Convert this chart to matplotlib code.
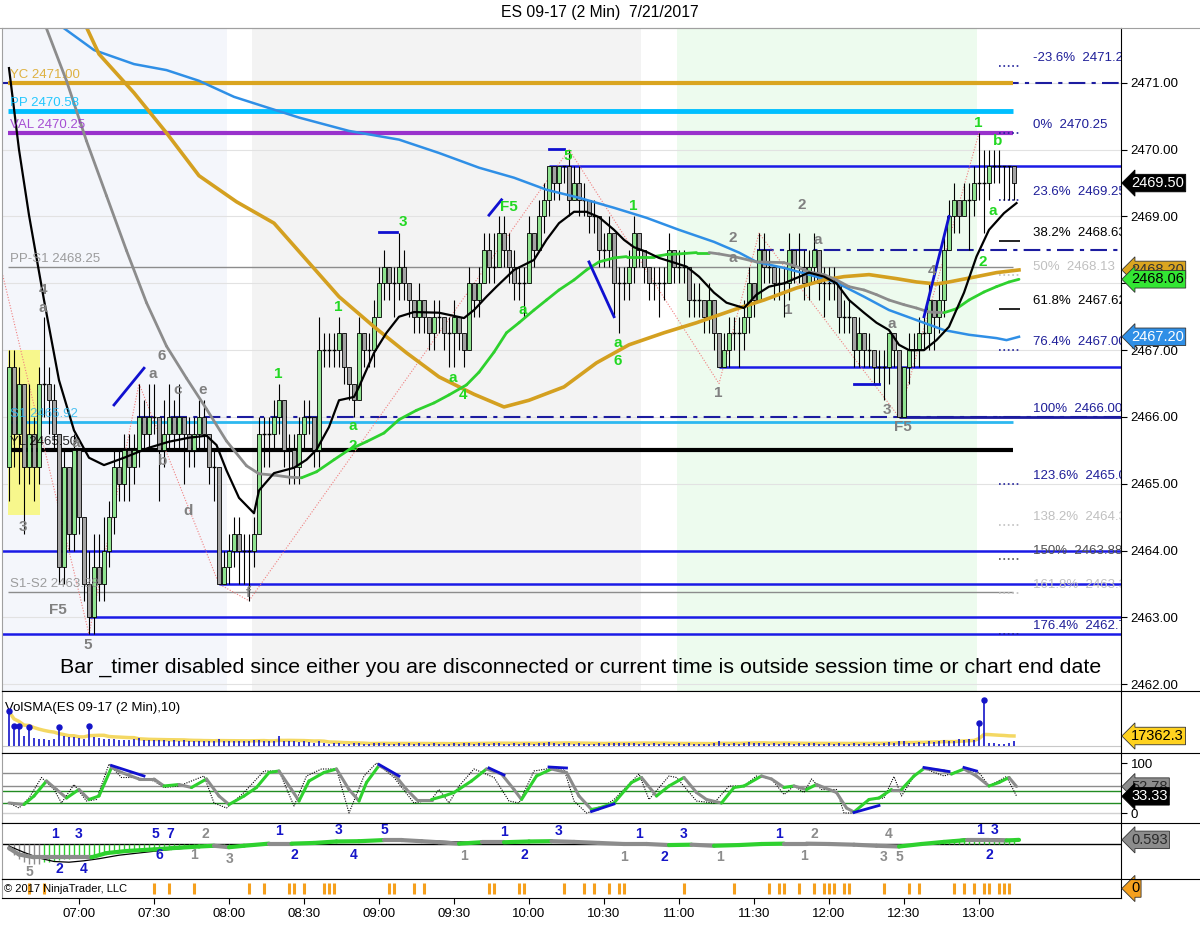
import numpy as np
import pandas as pd
import matplotlib
matplotlib.use("Agg")
import matplotlib.pyplot as plt
from matplotlib.collections import LineCollection
from matplotlib.lines import Line2D

plt.rcParams['font.family'] = ['Liberation Sans', 'DejaVu Sans']

title = "ES 09-17 (2 Min)  7/21/2017"
message = ("Bar _timer disabled since either you are disconnected or current time "
           "is outside session time or chart end date")

# 2 min bars, time in minutes from 07:00, first bar stamped 06:32
first_bar_min = -28
first_open = 2465.25
closes = [2466.75, 2465.75, 2466.5, 2465.25, 2465.75, 2465.25, 2466.5, 2466.5, 2466.25, 2465.75,
          2463.75, 2465.25, 2464.25, 2465.5, 2464.5, 2463.5, 2463.0, 2463.75, 2463.5, 2464.0,
          2464.5, 2465.25, 2465.0, 2465.5, 2465.25, 2465.5, 2466.0, 2465.75, 2466.0, 2466.0,
          2465.5, 2465.75, 2466.0, 2465.75, 2466.0, 2465.75, 2465.5, 2465.75, 2466.0, 2465.75,
          2465.25, 2465.25, 2463.5, 2463.75, 2464.0, 2464.25, 2464.0, 2464.0, 2464.0, 2464.25,
          2465.75, 2465.75, 2465.75, 2466.0, 2466.25, 2465.5, 2465.5, 2465.25, 2465.75, 2466.0,
          2466.0, 2465.5, 2467.0, 2467.0, 2467.0, 2467.0, 2467.25, 2466.75, 2466.5, 2466.25,
          2467.25, 2467.0, 2467.0, 2467.5, 2468.0, 2468.25, 2468.0, 2468.0, 2468.25, 2468.0,
          2467.75, 2467.5, 2467.75, 2467.5, 2467.25, 2467.5, 2467.5, 2467.25, 2467.25, 2467.5,
          2467.25, 2467.0, 2468.0, 2467.75, 2468.0, 2468.5, 2468.25, 2468.25, 2468.75, 2468.5,
          2468.25, 2468.0, 2468.0, 2468.0, 2468.75, 2468.5, 2469.0, 2469.25, 2469.75, 2469.5,
          2469.75, 2469.75, 2469.25, 2469.5, 2469.25, 2469.25, 2469.0, 2469.0, 2468.5, 2468.5,
          2468.75, 2468.0, 2468.0, 2468.0, 2468.25, 2468.75, 2468.5, 2468.25, 2468.0, 2468.0,
          2468.0, 2468.0, 2468.5, 2468.25, 2468.25, 2468.25, 2467.75, 2467.75, 2467.75, 2467.5,
          2467.75, 2467.25, 2466.75, 2467.0, 2467.25, 2467.25, 2467.25, 2467.5, 2468.0, 2467.75,
          2468.5, 2468.25, 2468.25, 2468.0, 2468.0, 2468.0, 2468.5, 2468.25, 2468.25, 2468.0,
          2468.25, 2468.5, 2468.0, 2468.0, 2468.0, 2468.0, 2467.5, 2467.5, 2467.5, 2467.0,
          2467.25, 2467.0, 2467.0, 2466.75, 2466.75, 2466.75, 2467.25, 2467.0, 2466.0, 2466.75,
          2467.0, 2467.0, 2467.25, 2467.25, 2467.75, 2467.5, 2467.75, 2468.5, 2469.0, 2469.25,
          2469.0, 2469.25, 2469.25, 2469.5, 2469.5, 2469.5, 2469.75, 2469.75, 2469.75, 2469.75,
          2469.75, 2469.5]
highs = [2467.0, 2467.0, 2466.75, 2466.5, 2466.5, 2466.0, 2466.75, 2467.5, 2466.75, 2466.5,
         2465.75, 2465.5, 2465.25, 2465.75, 2465.5, 2464.5, 2464.0, 2464.25, 2464.25, 2464.5,
         2464.75, 2465.5, 2465.5, 2465.75, 2465.75, 2465.75, 2466.5, 2466.25, 2466.5, 2466.5,
         2466.0, 2466.25, 2466.5, 2466.25, 2466.5, 2466.0, 2466.0, 2466.0, 2466.25, 2466.25,
         2465.75, 2465.5, 2465.25, 2464.0, 2464.25, 2464.5, 2464.5, 2464.25, 2464.25, 2464.5,
         2466.0, 2466.0, 2466.0, 2466.25, 2466.5, 2466.25, 2465.75, 2465.75, 2466.0, 2466.25,
         2466.25, 2466.0, 2467.5, 2467.25, 2467.25, 2467.25, 2467.5, 2467.25, 2466.75, 2466.5,
         2467.5, 2467.25, 2467.25, 2467.75, 2468.25, 2468.5, 2468.25, 2468.25, 2468.75, 2468.5,
         2468.0, 2467.75, 2468.0, 2467.75, 2467.5, 2467.75, 2467.75, 2467.5, 2467.5, 2467.75,
         2467.5, 2467.25, 2468.25, 2468.0, 2468.25, 2468.75, 2468.75, 2468.75, 2469.0, 2469.0,
         2468.75, 2468.5, 2468.25, 2468.25, 2469.0, 2468.75, 2469.25, 2469.5, 2469.75, 2469.75,
         2469.75, 2469.75, 2470.0, 2469.75, 2469.75, 2469.5, 2469.25, 2469.25, 2469.0, 2468.75,
         2469.0, 2468.75, 2468.25, 2468.25, 2468.5, 2469.0, 2468.75, 2468.5, 2468.25, 2468.25,
         2468.25, 2468.25, 2468.75, 2468.5, 2468.5, 2468.5, 2468.25, 2468.0, 2468.0, 2467.75,
         2468.0, 2467.75, 2467.25, 2467.25, 2467.5, 2467.5, 2467.5, 2467.75, 2468.25, 2468.0,
         2468.75, 2468.75, 2468.5, 2468.25, 2468.25, 2468.25, 2468.75, 2468.5, 2468.75, 2468.5,
         2468.5, 2468.75, 2468.5, 2468.25, 2468.25, 2468.25, 2468.0, 2467.75, 2467.75, 2467.5,
         2467.5, 2467.25, 2467.25, 2467.0, 2467.0, 2467.0, 2467.25, 2467.25, 2467.0, 2466.75,
         2467.25, 2467.25, 2467.5, 2467.5, 2468.0, 2467.75, 2468.0, 2468.75, 2469.25, 2469.5,
         2469.25, 2469.5, 2469.5, 2469.75, 2470.25, 2470.0, 2470.0, 2470.0, 2470.0, 2469.75,
         2469.75, 2469.75]
lows = [2464.75, 2465.25, 2465.0, 2464.25, 2465.0, 2464.75, 2465.0, 2466.0, 2465.75, 2465.5,
        2463.5, 2463.5, 2464.0, 2464.0, 2464.25, 2463.25, 2462.75, 2462.75, 2463.25, 2463.25,
        2463.75, 2464.25, 2464.75, 2464.75, 2464.75, 2465.0, 2465.25, 2465.5, 2465.5, 2465.75,
        2464.75, 2465.25, 2465.5, 2465.5, 2465.5, 2465.0, 2465.25, 2465.25, 2465.5, 2465.5,
        2465.0, 2464.75, 2463.5, 2463.5, 2463.5, 2463.75, 2463.5, 2463.5, 2463.25, 2463.75,
        2464.25, 2465.25, 2465.25, 2465.5, 2465.75, 2465.25, 2465.0, 2465.0, 2465.0, 2465.5,
        2465.75, 2465.25, 2465.25, 2466.75, 2466.75, 2466.75, 2466.75, 2466.5, 2466.25, 2466.0,
        2466.25, 2466.75, 2466.75, 2466.75, 2467.5, 2467.75, 2467.75, 2467.5, 2467.75, 2467.75,
        2467.5, 2467.25, 2467.25, 2467.25, 2467.0, 2467.0, 2467.25, 2467.0, 2466.75, 2466.75,
        2467.0, 2466.75, 2467.0, 2467.5, 2467.5, 2468.0, 2468.0, 2468.0, 2468.25, 2468.25,
        2468.0, 2467.75, 2467.75, 2467.5, 2468.0, 2468.25, 2468.5, 2468.75, 2469.0, 2469.25,
        2469.25, 2469.5, 2469.0, 2469.25, 2469.0, 2469.0, 2468.75, 2468.75, 2468.25, 2468.25,
        2468.25, 2467.5, 2467.25, 2467.75, 2467.75, 2468.0, 2468.25, 2468.0, 2467.75, 2467.75,
        2467.5, 2467.75, 2468.0, 2468.0, 2468.0, 2468.0, 2467.5, 2467.5, 2467.5, 2467.25,
        2467.25, 2467.0, 2466.75, 2466.75, 2466.75, 2467.0, 2466.75, 2467.0, 2467.25, 2467.5,
        2467.75, 2468.0, 2468.0, 2467.75, 2467.75, 2467.5, 2467.75, 2468.0, 2468.0, 2467.75,
        2467.75, 2468.0, 2467.75, 2467.5, 2467.75, 2467.75, 2467.25, 2467.25, 2467.25, 2466.75,
        2466.75, 2466.75, 2466.75, 2466.5, 2466.5, 2466.25, 2466.5, 2466.75, 2466.0, 2466.0,
        2466.5, 2466.75, 2466.75, 2467.0, 2467.0, 2467.0, 2467.25, 2467.5, 2468.5, 2468.75,
        2468.75, 2469.0, 2468.5, 2469.0, 2469.25, 2468.75, 2469.25, 2469.5, 2469.5, 2469.25,
        2469.25, 2469.25]
volumes = [60000, 34000, 34000, 17000, 33000, 14000, 13000, 12000, 11000, 13000,
           33000, 18000, 15000, 16000, 14000, 13000, 34000, 16000, 14000, 13000,
           12000, 12000, 11000, 11000, 10000, 12000, 14000, 11000, 10000, 11000,
           10000, 11000, 9000, 10000, 9000, 11000, 9000, 8000, 9000, 8000,
           9000, 8000, 13000, 9000, 8000, 9000, 8000, 9000, 8000, 10000,
           11000, 9000, 8000, 9000, 17000, 8000, 9000, 8000, 7000, 8000,
           7000, 6000, 9000, 5000, 3000, 5000, 6000, 3000, 4000, 6000,
           5000, 4000, 3000, 5000, 5000, 6000, 4000, 3000, 5000, 4000,
           5000, 4000, 5000, 3000, 4000, 5000, 4000, 4000, 3000, 5000,
           4000, 5000, 6000, 4000, 5000, 6000, 4000, 5000, 5000, 4000,
           4000, 5000, 4000, 5000, 6000, 4000, 5000, 6000, 7000, 5000,
           4000, 5000, 6000, 4000, 5000, 4000, 3000, 4000, 5000, 4000,
           6000, 5000, 6000, 5000, 6000, 5000, 4000, 5000, 4000, 5000,
           4000, 5000, 4000, 4000, 5000, 4000, 5000, 3000, 4000, 4000,
           4000, 5000, 8000, 5000, 4000, 5000, 4000, 6000, 7000, 5000,
           6000, 5000, 4000, 5000, 4000, 5000, 5000, 4000, 5000, 4000,
           5000, 5000, 4000, 4000, 5000, 4000, 5000, 4000, 4000, 6000,
           4000, 5000, 4000, 6000, 4000, 5000, 7000, 6000, 9000, 8000,
           6000, 5000, 7000, 6000, 8000, 7000, 9000, 11000, 9000, 8000,
           12000, 10000, 12000, 10000, 40000, 80000, 6000, 5000, 4000, 4000,
           5000, 8000]

# moving averages (minute, price)
black_t = [-28, -24, -20, -14, -8, -2, 4, 10, 18, 28, 36, 44, 51, 55, 59, 64, 70, 72, 78, 86,
           91, 95, 100, 104, 110, 112, 118, 123, 128, 134, 144, 154, 158, 163, 167, 174, 182, 187, 192, 198,
           203, 208, 214, 218, 222, 227, 232, 238, 243, 248, 254, 259, 266, 271, 276, 282, 287, 292, 298, 303,
           308, 314, 319, 324, 328, 332, 338, 343, 348, 354, 359, 364, 370, 375]
black_p = [2471.22, 2470.0, 2469.02, 2467.75, 2466.55, 2465.8, 2465.39, 2465.28, 2465.39, 2465.54,
           2465.63, 2465.69, 2465.72, 2465.58, 2465.2, 2464.79, 2464.56, 2464.9, 2465.16, 2465.24,
           2465.36, 2465.51, 2465.85, 2466.25, 2466.3, 2466.45, 2466.96, 2467.26, 2467.5, 2467.57,
           2467.56, 2467.48, 2467.6, 2467.8, 2467.95, 2468.2, 2468.35, 2468.65, 2468.9, 2469.07,
           2469.07, 2468.99, 2468.8, 2468.65, 2468.54, 2468.47, 2468.38, 2468.31, 2468.25, 2468.1,
           2467.86, 2467.71, 2467.63, 2467.83, 2467.95, 2468.0, 2468.08, 2468.16, 2468.1, 2468.0,
           2467.75, 2467.56, 2467.41, 2467.3, 2467.08, 2467.0, 2467.0, 2467.15, 2467.35, 2467.86,
           2468.4, 2468.8, 2469.05, 2469.2]
trend_t = [-14, -5, 3, 11, 19, 27, 35, 43, 51, 59, 67, 72, 78, 84, 89, 95, 102, 108, 115, 122,
           128, 135, 142, 148, 155, 160, 166, 171, 176, 182, 187, 192, 198, 203, 208, 214, 219, 230, 235, 240,
           247, 252, 256, 262, 271, 282, 287, 292, 298, 303, 308, 314, 319, 324, 330, 335, 340, 346, 351, 356,
           362, 367, 372, 376]
trend_p = [2471.91, 2471.03, 2470.13, 2469.31, 2468.49, 2467.71, 2467.06, 2466.58, 2466.12, 2465.64,
           2465.27, 2465.15, 2465.13, 2465.10, 2465.09, 2465.18, 2465.36, 2465.51, 2465.63, 2465.76,
           2465.96, 2466.10, 2466.21, 2466.33, 2466.48, 2466.67, 2466.97, 2467.26, 2467.41, 2467.60,
           2467.75, 2467.90, 2468.05, 2468.20, 2468.32, 2468.38, 2468.40, 2468.40, 2468.43, 2468.44,
           2468.46, 2468.46, 2468.44, 2468.40, 2468.32, 2468.31, 2468.25, 2468.17, 2468.13, 2468.05,
           2467.95, 2467.90, 2467.83, 2467.75, 2467.68, 2467.63, 2467.57, 2467.56, 2467.62, 2467.75,
           2467.87, 2467.95, 2468.02, 2468.06]
blue_t = [-8, 6, 22, 35, 48, 62, 72, 88, 108, 128, 144, 160, 174, 187, 200, 214, 227, 240, 254, 264,
          271, 282, 292, 303, 314, 324, 335, 346, 356, 367, 371, 376]
blue_p = [2471.87, 2471.49, 2471.28, 2471.19, 2471.03, 2470.79, 2470.67, 2470.48, 2470.28, 2470.15,
          2469.95, 2469.73, 2469.58, 2469.40, 2469.28, 2469.13, 2468.98, 2468.80, 2468.62, 2468.46,
          2468.32, 2468.23, 2468.13, 2468.01, 2467.80, 2467.60, 2467.45, 2467.30, 2467.23, 2467.18,
          2467.15, 2467.20]
gold_t = [2, 8, 22, 35, 48, 63, 78, 91, 104, 118, 131, 144, 158, 170, 180, 194, 207, 220, 234, 247,
          264, 274, 287, 298, 306, 316, 327, 335, 343, 348, 359, 367, 376]
gold_p = [2471.91, 2471.43, 2470.85, 2470.25, 2469.61, 2469.22, 2468.90, 2468.35, 2467.80, 2467.35,
          2466.96, 2466.60, 2466.34, 2466.15, 2466.25, 2466.45, 2466.81, 2467.08, 2467.26, 2467.41,
          2467.63, 2467.75, 2467.93, 2468.05, 2468.10, 2468.13, 2468.07, 2468.02, 2467.99, 2468.02,
          2468.10, 2468.16, 2468.20]

zigzag_t = [-31, 4, 24, 56, 68, 196, 256, 272, 328, 360]
zigzag_p = [2468.2, 2462.75, 2466.5, 2463.5, 2463.25, 2470.0, 2466.5, 2468.75, 2466.0, 2470.25]

pivot_txt = ["YC 2471.00", "PP 2470.58", "VAL 2470.25", "PP-S1 2468.25", "S1 2465.92",
             "YL 2465.50", "S1-S2 2463.38"]
pivot_val = [2471.00, 2470.58, 2470.25, 2468.25, 2465.92, 2465.50, 2463.38]
pivot_col = ['#DAA520', '#00BFFF', '#9932CC', '#8C8C8C', '#2DB8F0', '#000000', '#8C8C8C']
pivot_lw = [3.0, 3.5, 3.0, 1.0, 2.0, 3.0, 1.0]

sr_val = [2469.75, 2466.75, 2464.00, 2463.50, 2463.00, 2462.75]
sr_from = [188, 256, -31, 56, 4, -31]
dd_val = [2471.00, 2468.50, 2466.00]
dd_from = [-31, 271, 23]

fib_pct = ["-23.6%", "0%", "23.6%", "38.2%", "50%", "61.8%", "76.4%", "100%", "123.6%",
           "138.2%", "150%", "161.8%", "176.4%"]
fib_val = [2471.25, 2470.25, 2469.25, 2468.63, 2468.13, 2467.62, 2467.00, 2466.00, 2465.00,
           2464.38, 2463.88, 2463.37, 2462.75]
fib_col = ['#1F1F99', '#1F1F99', '#1F1F99', '#000000', '#C0C0C0', '#000000', '#1F1F99', '#1F1F99',
           '#1F1F99', '#C0C0C0', '#505050', '#C0C0C0', '#1F1F99']

gray_labels = [("4", -14.4, 2467.90), ("a", -14.4, 2467.63), ("3", -22.4, 2464.35), ("F5", -8.4, 2463.11),
               ("5", 3.6, 2462.59), ("6", 33.2, 2466.91), ("a", 29.6, 2466.64), ("c", 39.6, 2466.40),
               ("e", 49.6, 2466.40), ("b", 33.6, 2465.34), ("d", 43.6, 2464.59), ("f", 67.6, 2463.37),
               ("a", -1.2, 2465.61), ("2", 261.6, 2468.68), ("a", 261.6, 2468.38), ("2", 289.2, 2469.17),
               ("a", 295.6, 2468.65), ("1", 283.6, 2467.60), ("1", 255.6, 2466.36), ("a", 325.2, 2467.39),
               ("3", 323.2, 2466.10), ("F5", 329.6, 2465.85), ("4", 341.2, 2468.19)]
green_labels = [("1", 79.6, 2466.64), ("1", 103.6, 2467.65), ("3", 129.6, 2468.92), ("a", 109.6, 2465.87),
                ("2", 109.6, 2465.57), ("a", 149.6, 2466.58), ("4", 153.6, 2466.33), ("a", 177.6, 2467.60),
                ("F5", 172.0, 2469.14), ("5", 195.6, 2469.91), ("1", 221.6, 2469.16), ("a", 215.6, 2467.11),
                ("6", 215.6, 2466.84), ("1", 359.6, 2470.40), ("b", 367.6, 2470.13), ("a", 365.6, 2469.08),
                ("2", 361.6, 2468.32)]
blue_marks = [((14, 2466.18), (26, 2466.73)), ((120, 2468.77), (127, 2468.77)),
              ((164, 2469.02), (169, 2469.25)), ((188, 2470.01), (194, 2470.01)),
              ((204, 2468.32), (214, 2467.50)), ((310, 2466.49), (320, 2466.49)),
              ((338, 2467.50), (348, 2469.00))]

# stochastics
sto_t = [-28, -22, -18, -13, -9, -5, 0, 4, 8, 13, 17, 24, 30, 34, 40, 45, 51, 56, 60, 66,
         71, 76, 80, 85, 88, 92, 98, 103, 108, 112, 115, 120, 126, 131, 135, 141, 146, 150, 157, 163,
         169, 174, 177, 183, 189, 195, 200, 205, 208, 214, 221, 225, 231, 236, 242, 247, 251, 257, 262, 266,
         273, 277, 282, 286, 291, 295, 300, 303, 307, 310, 316, 320, 325, 329, 334, 338, 346, 349, 354, 359,
         364, 368, 372, 375]
sto_d = [20, 17, 34, 64, 47, 30, 47, 27, 34, 91, 81, 68, 68, 54, 57, 51, 68, 34, 17, 34,
         51, 81, 84, 47, 24, 64, 81, 88, 47, 24, 61, 95, 78, 47, 27, 27, 34, 41, 64, 88,
         78, 47, 27, 74, 88, 81, 34, 7, 10, 20, 61, 71, 34, 54, 71, 41, 27, 20, 51, 54,
         74, 68, 51, 54, 47, 57, 47, 41, 10, 2, 27, 30, 47, 47, 74, 89, 84, 78, 88, 74,
         54, 61, 71, 53]
stk_t = [-28, -24, -20, -15, -10, -7, -2, 3, 7, 12, 17, 23, 30, 34, 40, 50, 54, 59, 66, 74,
         80, 86, 91, 97, 103, 108, 114, 119, 126, 134, 141, 144, 148, 152, 158, 166, 172, 176, 182, 187,
         194, 198, 203, 208, 214, 224, 228, 236, 239, 247, 254, 260, 266, 271, 277, 282, 286, 290, 293, 297,
         303, 306, 310, 316, 322, 326, 329, 334, 338, 346, 354, 360, 364, 371, 375]
stk_k = [20, 10, 30, 71, 47, 20, 57, 24, 27, 98, 71, 71, 64, 51, 54, 74, 20, 10, 41, 84,
         84, 14, 74, 88, 88, 0, 74, 100, 71, 20, 27, 47, 20, 54, 88, 71, 24, 20, 84, 88,
         88, 24, 0, 7, 27, 78, 27, 74, 71, 24, 20, 54, 54, 74, 68, 37, 54, 41, 68, 47,
         47, 0, 0, 27, 30, 73, 34, 74, 89, 74, 88, 81, 54, 73, 34]
sto_marks = [((13, 95), (26, 74)), ((120, 97), (128, 74)), ((164, 90), (170, 76)), ((188, 92), (195, 90)),
             ((205, 3), (214, 18)), ((310, 1), (320, 15)), ((338, 91), (348, 83)), ((354, 91), (359, 84))]

# macd style panel
macd_t = [-28, -24, -18, -12, -6, -1, 5, 11, 19, 30, 37, 48, 54, 60, 66, 76, 85, 94, 103, 112,
          122, 129, 137, 144, 152, 161, 170, 180, 189, 198, 208, 218, 227, 236, 245, 254, 264, 273, 282, 291,
          300, 310, 319, 328, 337, 346, 355, 364, 371, 376]
macd_v = [-0.6, -1.5, -1.9, -1.9, -1.9, -1.9, -1.9, -1.3, -1.0, -0.77, -0.6, -0.36, -0.25, -0.46, -0.25,
          0.05, 0.05, 0.15, 0.36, 0.4, 0.56, 0.56, 0.4, 0.25, 0.05, 0.25, 0.25, 0.36, 0.4, 0.3,
          0.15, 0.0, 0.0, -0.15, -0.1, -0.25, -0.15, 0.0, 0.05, 0.05, 0.0, -0.1, -0.25, -0.36, 0.0,
          0.3, 0.56, 0.56, 0.5, 0.59]
sig_t = [-28, -22, -16, -10, -4, 2, 8, 16, 26, 36, 46, 56, 66, 76, 90, 103, 118, 130, 144, 160,
         180, 198, 210, 236, 254, 273, 300, 319, 328, 340, 354, 364, 376]
sig_v = [-0.3, -1.2, -2.0, -2.5, -2.6, -2.4, -2.1, -1.6, -1.2, -0.8, -0.5, -0.35, -0.3, -0.1, 0.0,
         0.3, 0.45, 0.6, 0.4, 0.2, 0.3, 0.35, 0.2, -0.05, -0.2, -0.05, 0.05, -0.2, -0.35, 0.1,
         0.7, 0.75, 0.6]
hist_t = list(range(-28, 61, 2)) + list(range(344, 375, 2))
hist_v = [-0.8, -1.6, -2.2, -2.6, -2.8, -2.9, -2.8,
          -2.6, -2.5, -2.4, -2.3, -2.2, -2.1, -2.0, -1.9, -1.8, -1.7,
          -1.6, -1.5, -1.4, -1.3, -1.2, -1.1, -1.0, -0.9, -0.8, -0.75,
          -0.7, -0.65, -0.6, -0.55, -0.5, -0.45, -0.4, -0.38, -0.35, -0.33,
          -0.3, -0.28, -0.25, -0.22, -0.2, -0.2, -0.2, -0.15,
          0.2, 0.3, 0.4, 0.5, 0.55, 0.6, 0.6, 0.6, 0.6, 0.55, 0.5, 0.5, 0.5, 0.5, 0.45, 0.45]
wave_nums = [("5", -20, -4.0, 'g'), ("1", -9.6, 1.43, 'b'), ("3", 0, 1.43, 'b'), ("2", -8, -3.57, 'b'),
             ("4", 2, -3.57, 'b'), ("5", 30.4, 1.43, 'b'), ("7", 36.4, 1.43, 'b'), ("2", 50.4, 1.43, 'g'),
             ("6", 32, -1.57, 'b'), ("1", 46, -1.57, 'g'), ("3", 60.4, -2.14, 'g'), ("1", 80, 1.86, 'b'),
             ("2", 86, -1.57, 'b'), ("3", 104, 2.0, 'b'), ("4", 110, -1.57, 'b'), ("5", 122, 2.0, 'b'),
             ("1", 154, -1.71, 'g'), ("1", 170, 1.71, 'b'), ("2", 178, -1.57, 'b'), ("3", 192, 1.86, 'b'),
             ("1", 224, 1.43, 'b'), ("1", 218, -1.86, 'g'), ("3", 242, 1.43, 'b'), ("2", 234, -1.86, 'b'),
             ("1", 256.4, -1.86, 'g'), ("1", 280, 1.43, 'b'), ("2", 294, 1.43, 'g'), ("1", 290, -1.71, 'g'),
             ("4", 324, 1.43, 'g'), ("3", 322, -1.86, 'g'), ("5", 328, -1.86, 'g'), ("1", 360.4, 2.0, 'b'),
             ("3", 366.4, 2.0, 'b'), ("2", 364, -1.57, 'b')]

order_flags = [-20, -14, 30, 36, 46, 68, 74, 84, 86, 90, 98, 100, 102, 124, 126, 134, 138, 164, 166,
               176, 178, 194, 202, 206, 212, 216, 218, 242, 262, 276, 280, 282, 288, 294, 298, 300,
               302, 306, 308, 322, 332, 336, 350, 354, 358, 362, 364, 368, 370, 372]

# session shading (minutes)
sessions = [(-31, 59.2, '#F4F6FB'), (69.2, 224.8, '#F3F3F3'), (239.2, 359.2, '#EDFBEE')]
hilite = (-28.4, -15.6, 2464.53, 2467.0)

time_ticks = list(range(0, 361, 30))
time_labels = ["07:00", "07:30", "08:00", "08:30", "09:00", "09:30", "10:00", "10:30",
               "11:00", "11:30", "12:00", "12:30", "13:00"]

# ------------------------------------------------------------------
W, H = 1200, 952
fig = plt.figure(figsize=(12, 9.52), dpi=100)
fig.patch.set_facecolor('white')


def box(l, t, r, b):
    return [l / W, 1 - b / H, (r - l) / W, (b - t) / H]


T0, T1 = -30.8, 416.8
GREEN = '#2ED12E'
GRAY = '#8C8C8C'

ax = fig.add_axes(box(2, 28, 1121, 691))
axv = fig.add_axes(box(2, 691, 1121, 753))
axs = fig.add_axes(box(2, 753, 1121, 823))
axm = fig.add_axes(box(2, 823, 1121, 879))
axo = fig.add_axes(box(2, 879, 1121, 898))

for a in (ax, axv, axs, axm, axo):
    a.set_xlim(T0, T1)
    for s in a.spines.values():
        s.set_linewidth(0.8)
        s.set_color('black')
    a.spines['left'].set_color('#A0A0A0')
    a.tick_params(axis='x', bottom=False, labelbottom=False)
    a.tick_params(axis='y', left=False, labelleft=False, right=False, labelright=False)
ax.spines['top'].set_color('#A0A0A0')


def tag(a, y, text, fc, tc, ec='#333333'):
    a.text(1.009, y, text, transform=a.get_yaxis_transform(), ha='left', va='center',
           fontsize=10.5, color=tc, clip_on=False, zorder=20,
           bbox=dict(boxstyle='larrow,pad=0.12', fc=fc, ec=ec, lw=0.6))


def two_tone(a, t, v, lw, strict=True):
    pts = np.column_stack([t, v])
    segs = np.stack([pts[:-1], pts[1:]], axis=1)
    d = np.diff(v)
    rising = d > 0 if strict else d >= 0
    cols = [GREEN if r else GRAY for r in rising]
    a.add_collection(LineCollection(segs, colors=cols, linewidths=lw, zorder=6,
                                    capstyle='round', joinstyle='round'))


# ---------------- price panel ----------------
ax.set_ylim(2461.90, 2471.82)
for t0, t1, col in sessions:
    ax.axvspan(t0, t1, color=col, lw=0, zorder=0)
ax.hlines(np.arange(2462, 2472), T0, T1, color='#E2E2E2', lw=0.8, zorder=1)
ax.add_patch(plt.Rectangle((hilite[0], hilite[2]), hilite[1] - hilite[0], hilite[3] - hilite[2],
                           color='#F7F78C', lw=0, zorder=1.5))

for v, s in zip(dd_val, dd_from):
    ax.hlines(v, s, T1, color='#1C1CA0', lw=1.5, linestyles=(0, (8, 3, 2, 3)), zorder=2)
ax.hlines(2466.00, 328, T1, color='#1C1CA0', lw=2, zorder=2.1)
for v, s in zip(sr_val, sr_from):
    ax.hlines(v, s, T1, color='#1A1AE6', lw=1.8, zorder=2.2)
for txt, v, col, lw in zip(pivot_txt, pivot_val, pivot_col, pivot_lw):
    ax.hlines(v, -28.4, 373.6, color=col, lw=lw, zorder=2.3)
    ax.text(-27.6, v + 0.03, txt, color=col, alpha=0.85, fontsize=9.5, ha='left', va='bottom',
            zorder=7, clip_on=True)

for pct, v, col in zip(fib_pct, fib_val, fib_col):
    ls = '-' if col == '#000000' else ':'
    ax.hlines(v, 368, 376.4, color=col, lw=1.2, linestyles=ls, zorder=2.4)
    ax.text(381.6, v + 0.03, f"{pct}  {v:.2f}", color=col, fontsize=9.5, ha='left', va='bottom',
            zorder=7, clip_on=True)

ax.plot(zigzag_t, zigzag_p, color='#F08080', lw=0.8, ls=(0, (1, 1.5)), zorder=2.5)

# candles
c = np.array(closes)
o = np.r_[first_open, c[:-1]]
bar_t = first_bar_min + 2 * np.arange(len(c))
hi = np.maximum(np.array(highs), np.maximum(o, c))
lo = np.minimum(np.array(lows), np.minimum(o, c))
up, dn, dj = c > o, c < o, c == o
ax.vlines(bar_t, lo, hi, color='black', lw=0.8, zorder=4)
ax.bar(bar_t[up], (c - o)[up], bottom=o[up], width=1.55, color='#8FE38F',
       edgecolor='black', linewidth=0.6, zorder=5)
ax.bar(bar_t[dn], (c - o)[dn], bottom=o[dn], width=1.55, color='#A3A3A3',
       edgecolor='black', linewidth=0.6, zorder=5)
ax.hlines(c[dj], bar_t[dj] - 0.8, bar_t[dj] + 0.8, color='black', lw=1.0, zorder=5)

# moving averages
ax.plot(blue_t, blue_p, color='#2F8FE6', lw=1.8, zorder=6)
ax.plot(gold_t, gold_p, color='#D4A020', lw=2.6, zorder=6)
two_tone(ax, np.array(trend_t, float), np.array(trend_p), 2.0, strict=False)
ax.plot(black_t, black_p, color='black', lw=1.6, zorder=6.5)

for (p0, p1) in blue_marks:
    ax.plot([p0[0], p1[0]], [p0[1], p1[1]], color='#1010D0', lw=2, zorder=7)

for txt, t, p in gray_labels:
    ax.text(t, p, txt, color='#808080', fontsize=11, fontweight='bold', ha='center', va='center', zorder=8)
for txt, t, p in green_labels:
    ax.text(t, p, txt, color='#22D822', fontsize=11, fontweight='bold', ha='center', va='center', zorder=8)

ax.text(-7.6, 2462.26, message, fontsize=15.4, color='black', ha='left', va='center', zorder=9)

ax.tick_params(axis='y', right=True, labelright=True, length=4, width=0.8, pad=3,
               labelsize=9.5, direction='out')
ax.set_yticks(np.arange(2462, 2472))
ax.set_yticklabels([f"{v:.2f}" for v in np.arange(2462, 2472)])

tag(ax, 2469.50, "2469.50", 'black', 'white', 'black')
tag(ax, 2468.20, "2468.20", '#DAA520', '#333333')
tag(ax, 2468.06, "2468.06", '#33E633', 'black')
tag(ax, 2467.20, "2467.20", '#2F8FE6', 'white')

# ---------------- volume ----------------
vol = np.array(volumes)
axv.set_ylim(-12150, 95480)
axv.hlines(0, T0, T1, color='#C8C8C8', lw=0.8)
axv.vlines(bar_t, 0, vol, color='#1414C8', lw=1.2, zorder=3)
big = vol >= 30000
axv.plot(bar_t[big], vol[big], 'o', color='#1414C8', ms=3.6, zorder=4)
vsma = pd.Series(vol).rolling(10, min_periods=1).mean()
axv.plot(bar_t, vsma, color='#F2CF3C', lw=2.5, alpha=0.8, zorder=2)
axv.text(-29.5, 0.72, "VolSMA(ES 09-17 (2 Min),10)", transform=axv.get_xaxis_transform(),
         fontsize=9.5, ha='left', va='center')
tag(axv, 17362.3, "17362.3", '#FFD21F', 'black')

# ---------------- stochastics ----------------
axs.set_ylim(-20, 120)
for lv, col in [(80, '#8C8C8C'), (55, '#8C8C8C'), (45, '#228B22'), (20, '#228B22'), (0, '#D0D0D0')]:
    axs.hlines(lv, T0, T1, color=col, lw=1.0, zorder=1)
axs.plot(stk_t, stk_k, color='black', lw=0.8, ls=(0, (1, 1.2)), zorder=3)
two_tone(axs, np.array(sto_t, float), np.array(sto_d, float), 2.2)
for (p0, p1) in sto_marks:
    axs.plot([p0[0], p1[0]], [p0[1], p1[1]], color='#1010D0', lw=2, zorder=7)
axs.set_yticks([0, 100])
axs.set_yticklabels(["0", "100"])
axs.tick_params(axis='y', right=True, labelright=True, length=4, width=0.8, pad=3, labelsize=9.5)
tag(axs, 52.78, "52.78", '#8C8C8C', '#2A2A2A')
tag(axs, 33.33, "33.33", 'black', 'white', 'black')

# ---------------- macd ----------------
axm.set_ylim(-5, 3)
axm.hlines(0, T0, T1, color='black', lw=1.0, zorder=2)
hcol = [GRAY if t < -15 else GREEN for t in hist_t]
axm.vlines(hist_t, 0, hist_v, colors=hcol, lw=1.0, zorder=3)
axm.plot(sig_t, sig_v, color='black', lw=0.9, zorder=4)
two_tone(axm, np.array(macd_t, float), np.array(macd_v), 3.0)
for txt, t, v, col in wave_nums:
    axm.text(t, v, txt, color='#1515C8' if col == 'b' else '#8C8C8C', fontsize=10,
             fontweight='bold', ha='center', va='center', zorder=8, clip_on=True)
tag(axm, 0.593, "0.593", '#8C8C8C', '#2A2A2A')

# ---------------- order flags ----------------
axo.set_ylim(0, 1)
axo.vlines(order_flags, 0.2, 0.8, color='#F5A01E', lw=2.2, zorder=2)
axo.text(-30.2, 0.5, "\u00a9 2017 NinjaTrader, LLC", fontsize=8, ha='left', va='center', zorder=3)
tag(axo, 0.5, "0", '#F5A01E', 'black')
axo.set_xticks(time_ticks)
axo.set_xticklabels(time_labels)
axo.tick_params(axis='x', bottom=True, labelbottom=True, length=4, width=0.8, pad=3, labelsize=9.5)

# panel separators running into the price scale area
for y in (691, 753, 823, 879):
    fig.add_artist(Line2D([1121 / W, 1.0], [1 - y / H, 1 - y / H], color='black', lw=0.8))
fig.add_artist(Line2D([0, 1.0], [1 - 28 / H, 1 - 28 / H], color='#A0A0A0', lw=0.8))

fig.text(0.5, 1 - 13 / H, title, ha='center', va='center', fontsize=11.3)

fig.savefig('out.png', dpi=100)
